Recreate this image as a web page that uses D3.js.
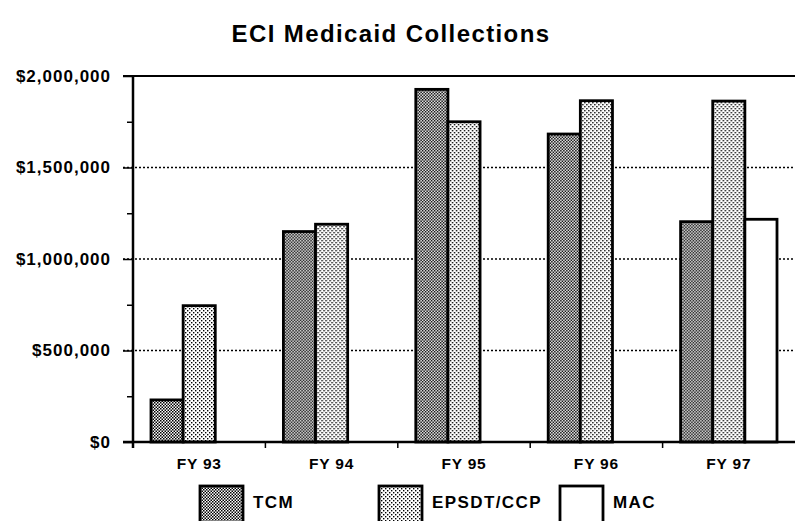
<!DOCTYPE html>
<html>
<head>
<meta charset="utf-8">
<script src="https://cdn.jsdelivr.net/npm/d3@7"></script>
<style>
  body { margin: 0; background: #fff; }
  svg { display: block; font-family: "Liberation Sans", Arial, sans-serif; }
</style>
</head>
<body>
<svg id="chart" width="795" height="521"></svg>
<script>
const years = ["FY 93", "FY 94", "FY 95", "FY 96", "FY 97"];
const seriesNames = ["TCM", "EPSDT/CCP", "MAC"];
const tcm = [230000, 1150000, 1927000, 1683000, 1204000];
const epsdt = [745000, 1190000, 1750000, 1865000, 1863000];
const mac = [0, 0, 0, 0, 1217000];
const yTicks = [0, 500000, 1000000, 1500000, 2000000];
const yMinor = [250000, 750000, 1250000, 1750000];

const svg = d3.select("#chart");
const plotL = 133, plotR = 795, plotT = 76, plotB = 442;

// dot patterns for the fills
const defs = svg.append("defs");
const pTcm = defs.append("pattern").attr("id", "pat-tcm")
    .attr("width", 3).attr("height", 3).attr("patternUnits", "userSpaceOnUse");
pTcm.append("rect").attr("width", 3).attr("height", 3).attr("fill", "#fff");
pTcm.append("rect").attr("x", 0).attr("y", 0).attr("width", 1.5).attr("height", 1.5).attr("fill", "#000");
pTcm.append("rect").attr("x", 1.5).attr("y", 1.5).attr("width", 1.5).attr("height", 1.5).attr("fill", "#000");

const pEps = defs.append("pattern").attr("id", "pat-eps")
    .attr("width", 4).attr("height", 4).attr("patternUnits", "userSpaceOnUse");
pEps.append("rect").attr("width", 4).attr("height", 4).attr("fill", "#fff");
pEps.append("rect").attr("x", 0).attr("y", 0).attr("width", 1.4).attr("height", 1.4).attr("fill", "#000");
pEps.append("rect").attr("x", 2).attr("y", 2).attr("width", 1.4).attr("height", 1.4).attr("fill", "#000");

const fills = { "TCM": "url(#pat-tcm)", "EPSDT/CCP": "url(#pat-eps)", "MAC": "#fff" };

const x0 = d3.scaleBand().domain(years).range([plotL, plotR]);
const x1 = d3.scaleBand().domain(seriesNames).range([0, x0.bandwidth()]).paddingOuter(0.56);
const y = d3.scaleLinear().domain([0, 2000000]).range([plotB, plotT]);

// title
svg.append("text").attr("x", 391).attr("y", 42).attr("text-anchor", "middle")
    .attr("font-size", 24).attr("font-weight", "bold").attr("letter-spacing", 1.4)
    .text("ECI Medicaid Collections");

// dotted gridlines
svg.append("g").selectAll("line").data(yTicks.filter(d => d > 0 && d < 2000000)).join("line")
    .attr("x1", plotL - 10).attr("x2", plotR).attr("y1", d => y(d)).attr("y2", d => y(d))
    .attr("stroke", "#000").attr("stroke-width", 1.5).attr("stroke-dasharray", "2,2");

// top frame line
svg.append("line").attr("x1", plotL - 10).attr("x2", plotR).attr("y1", plotT).attr("y2", plotT)
    .attr("stroke", "#000").attr("stroke-width", 2);

// bars
const rows = years.map((yr, i) => ({ yr, vals: [tcm[i], epsdt[i], mac[i]] }));
svg.append("g").selectAll("g").data(rows).join("g")
    .attr("transform", d => `translate(${x0(d.yr)},0)`)
  .selectAll("rect").data(d => seriesNames.map((s, j) => ({ s, v: d.vals[j] })).filter(d => d.v > 0))
  .join("rect")
    .attr("x", d => x1(d.s)).attr("width", x1.bandwidth())
    .attr("y", d => y(d.v)).attr("height", d => y(0) - y(d.v))
    .attr("fill", d => fills[d.s]).attr("stroke", "#000").attr("stroke-width", 2.8);

// y axis
const yAxis = svg.append("g").attr("transform", `translate(${plotL},0)`)
    .call(d3.axisLeft(y).tickValues(yTicks).tickSize(10).tickPadding(12)
        .tickFormat(d => "$" + d3.format(",")(d)));
yAxis.select(".domain").remove();
yAxis.selectAll("text").attr("font-size", 17).attr("font-weight", "bold").attr("letter-spacing", 1)
    .attr("font-family", "Liberation Sans, Arial, sans-serif");
yAxis.selectAll("line").attr("stroke-width", 1.5);
svg.append("g").attr("transform", `translate(${plotL},0)`)
    .call(d3.axisLeft(y).tickValues(yMinor).tickSize(6).tickFormat(""))
    .call(g => g.select(".domain").remove())
    .selectAll("line").attr("stroke-width", 1.5);
svg.append("line").attr("x1", plotL).attr("x2", plotL).attr("y1", plotT).attr("y2", plotB + 6)
    .attr("stroke", "#000").attr("stroke-width", 2.5);

// x axis
svg.append("line").attr("x1", plotL - 10).attr("x2", plotR).attr("y1", plotB).attr("y2", plotB)
    .attr("stroke", "#000").attr("stroke-width", 2.5);
svg.append("g").selectAll("line").data(years.slice(1)).join("line")
    .attr("x1", d => x0(d)).attr("x2", d => x0(d)).attr("y1", plotB).attr("y2", plotB + 6)
    .attr("stroke", "#000").attr("stroke-width", 1.5);
svg.append("g").selectAll("text").data(years).join("text")
    .attr("x", d => x0(d) + x0.bandwidth() / 2).attr("y", 469)
    .attr("text-anchor", "middle").attr("font-size", 15.5).attr("font-weight", "bold")
    .attr("letter-spacing", 0.8).text(d => d);

// legend
const legendX = [200, 379, 560];
const lg = svg.append("g").selectAll("g").data(seriesNames).join("g")
    .attr("transform", (d, i) => `translate(${legendX[i]},486)`);
lg.append("rect").attr("width", 43).attr("height", 40)
    .attr("fill", d => fills[d]).attr("stroke", "#000").attr("stroke-width", 2.8);
lg.append("text").attr("x", 53).attr("y", 22).attr("font-size", 17).attr("font-weight", "bold")
    .attr("letter-spacing", 1.4).text(d => d);
</script>
</body>
</html>
